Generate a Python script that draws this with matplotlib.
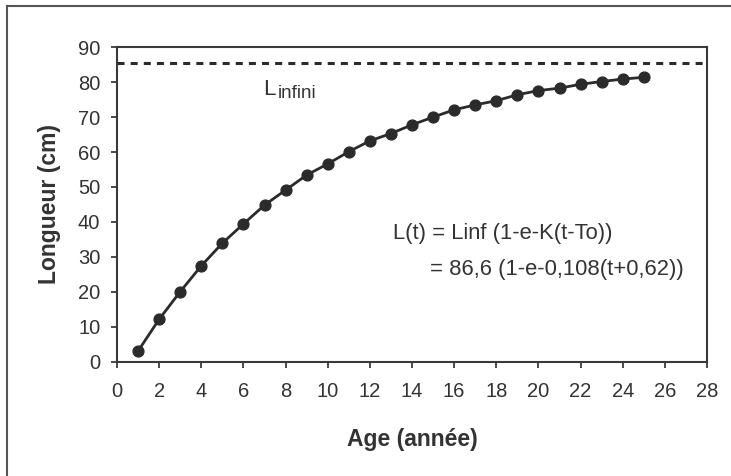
import matplotlib
matplotlib.use("Agg")
import matplotlib.pyplot as plt
from matplotlib.lines import Line2D

plt.rcParams['font.family'] = ['Liberation Sans', 'DejaVu Sans']

ages = list(range(1, 26))
lengths = [3.0, 12.1, 20.0, 27.4, 33.9, 39.4, 44.8, 49.1, 53.4, 56.6,
           60.1, 63.2, 65.3, 67.8, 70.0, 72.1, 73.5, 74.7, 76.4, 77.6,
           78.3, 79.4, 80.2, 80.9, 81.4]
l_infini = 85.4
x_ticks = list(range(0, 29, 2))
y_ticks = list(range(0, 91, 10))
x_label = "Age (année)"
y_label = "Longueur (cm)"
formula1 = "L(t) = Linf (1-e-K(t-To))"
formula2 = "= 86,6 (1-e-0,108(t+0,62))"

W, H = 731, 476
fig = plt.figure(figsize=(W / 100, H / 100), dpi=100)
fig.patch.set_facecolor('white')

left, right, top, bottom = 117, 707, 47.3, 361.5
ax = fig.add_axes([left / W, 1 - bottom / H, (right - left) / W, (bottom - top) / H])

dark = '#2b2b2b'
txt = '#333333'

ax.plot(ages, lengths, color=dark, lw=2.0, marker='o', markersize=7.8,
        markerfacecolor=dark, markeredgecolor=dark, zorder=3)
ax.axhline(l_infini, color=dark, lw=2.2, linestyle=(0, (2.3, 2.0)), zorder=2)

ax.set_xlim(0, 28)
ax.set_ylim(0, 90)
ax.set_xticks(x_ticks)
ax.set_yticks(y_ticks)
ax.tick_params(axis='both', direction='out', length=4.5, width=1.2, color=dark,
               labelsize=14.5, labelcolor=txt)
ax.tick_params(axis='x', pad=10.5)
ax.tick_params(axis='y', pad=7.5)
for s in ax.spines.values():
    s.set_color('#3a3a3a')
    s.set_linewidth(1.5)

ax.set_xlabel(x_label, fontsize=16.5, fontweight='bold', color=txt, labelpad=19)
ax.set_ylabel(y_label, fontsize=16.5, fontweight='bold', color=txt, labelpad=12)

ax.text(6.95, 76.2, "L", fontsize=16, color=txt, ha='left', va='baseline')
ax.text(7.63, 75.4, "infini", fontsize=13.5, color=txt, ha='left', va='baseline')
ax.text(13.1, 36.7, formula1, fontsize=15.8, color=txt, ha='left', va='center')
ax.text(14.86, 26.4, formula2, fontsize=15.8, color=txt, ha='left', va='center')

# outer frame (left and top edges visible)
fig.add_artist(Line2D([7.3 / W, 7.3 / W], [0, 1 - 6 / H], transform=fig.transFigure,
                      color='#555555', lw=1.5))
fig.add_artist(Line2D([7.3 / W, 1], [1 - 6 / H, 1 - 6 / H], transform=fig.transFigure,
                      color='#555555', lw=1.5))

fig.savefig('out.png', dpi=100, facecolor='white')
